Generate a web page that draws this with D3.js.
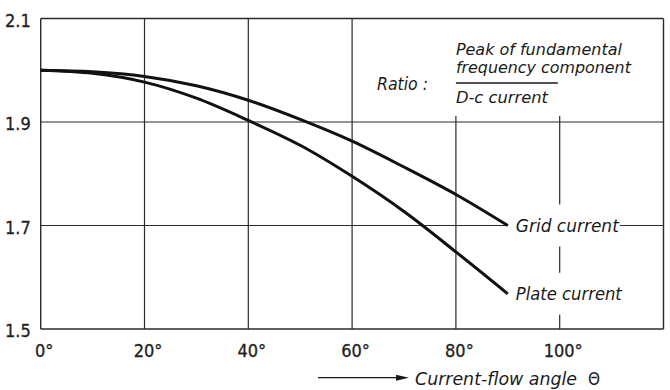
<!DOCTYPE html>
<html>
<head>
<meta charset="utf-8">
<script src="https://cdn.jsdelivr.net/npm/d3@7"></script>
<style>
  html, body { margin: 0; padding: 0; background: #fff; }
  svg { display: block; }
  .tick text { font-family: "Liberation Sans Narrow", "DejaVu Sans Condensed", sans-serif; font-size: 18px; fill: #1e1e1e; stroke: #1e1e1e; stroke-width: 0.3px; }
  .lbl { font-family: "DejaVu Sans Condensed", "DejaVu Sans", sans-serif; font-style: italic; font-size: 17px; fill: #1a1a1a; }
  .lbl.small { font-size: 15.5px; }
</style>
</head>
<body>
<svg id="chart" width="670" height="390"></svg>
<script>
// Ratio of fundamental-frequency peak to d-c current vs. current-flow angle
const angles       = [0, 10, 20, 30, 40, 50, 60, 70, 80, 90];
const gridCurrent  = [2.0, 1.997, 1.988, 1.970, 1.942, 1.905, 1.863, 1.813, 1.760, 1.700];
const plateCurrent = [2.0, 1.994, 1.977, 1.946, 1.903, 1.855, 1.795, 1.727, 1.649, 1.568];

const xTicks = [0, 20, 40, 60, 80, 100];
const xTickLabels = ["0°", "20°", "40°", "60°", "80°", "100°"];
const yTicks = [1.5, 1.7, 1.9, 2.1];
const yTickLabels = ["1.5", "1.7", "1.9", "2.1"];

const seriesNames = ["Grid current", "Plate current"];
const ratioLabel = "Ratio :";
const ratioLines = ["Peak of fundamental", "frequency component", "D-c current"];
const axisTitle = "Current-flow angle";
const axisSymbol = "Θ";

const svg = d3.select("#chart");
const plotLeft = 40.7, plotRight = 663.5, plotTop = 18.5, plotBottom = 329;

const x = d3.scaleLinear().domain([0, 120]).range([plotLeft, plotRight]);
const y = d3.scaleLinear().domain([1.5, 2.1]).range([plotBottom, plotTop]);

const gridStroke = "#2a2a2a";
const g = svg.append("g");

// Ratio legend sits in the upper-right cell; the 80° and 100° verticals stop just above 1.9
const legendFloor = y(1.9) - 6;
// Curve ends and their labels
const gridEnd = { a: angles[angles.length - 1], v: gridCurrent[gridCurrent.length - 1] };
const plateEnd = { a: angles[angles.length - 1], v: plateCurrent[plateCurrent.length - 1] };
const labelGap = 21;

// Horizontal grid lines
yTicks.forEach(v => {
  if (v === 1.7) {
    g.append("line").attr("x1", plotLeft).attr("x2", x(gridEnd.a)).attr("y1", y(v)).attr("y2", y(v))
      .attr("stroke", gridStroke).attr("stroke-width", 1.2);
    g.append("line").attr("x1", x(gridEnd.a) + 112).attr("x2", plotRight).attr("y1", y(v)).attr("y2", y(v))
      .attr("stroke", gridStroke).attr("stroke-width", 1.2);
  } else {
    g.append("line").attr("x1", plotLeft).attr("x2", plotRight).attr("y1", y(v)).attr("y2", y(v))
      .attr("stroke", gridStroke).attr("stroke-width", v === 1.5 || v === 2.1 ? 1.4 : 1.2);
  }
});

// Vertical grid lines
xTicks.forEach(a => {
  let segs;
  if (a === 80) segs = [[legendFloor, plotBottom]];
  else if (a === 100) segs = [
    [legendFloor, y(gridEnd.v) - labelGap],
    [y(gridEnd.v) + labelGap, y(plateEnd.v) - labelGap],
    [y(plateEnd.v) + labelGap, plotBottom]
  ];
  else segs = [[plotTop, plotBottom]];
  segs.forEach(([y1, y2]) => {
    g.append("line").attr("x1", x(a)).attr("x2", x(a)).attr("y1", y1).attr("y2", y2)
      .attr("stroke", gridStroke).attr("stroke-width", a === 0 ? 1.4 : 1.2);
  });
});
// Right frame edge
g.append("line").attr("x1", plotRight).attr("x2", plotRight).attr("y1", plotTop).attr("y2", plotBottom)
  .attr("stroke", gridStroke).attr("stroke-width", 1.4);

// Curves
const line = d3.line().x(d => x(d[0])).y(d => y(d[1])).curve(d3.curveCatmullRom.alpha(0.5));
[gridCurrent, plateCurrent].forEach(series => {
  svg.append("path")
    .datum(angles.map((a, i) => [a, series[i]]))
    .attr("d", line)
    .attr("fill", "none")
    .attr("stroke", "#111")
    .attr("stroke-width", 3);
});

// Axes (labels only)
const xAxis = svg.append("g").attr("transform", `translate(0,${plotBottom})`)
  .call(d3.axisBottom(x).tickValues(xTicks).tickFormat((d, i) => xTickLabels[i]).tickSize(0));
xAxis.select(".domain").remove();
xAxis.selectAll("text").attr("y", 28).attr("dy", null).attr("dx", 3);

const yAxis = svg.append("g").attr("transform", `translate(${plotLeft},0)`)
  .call(d3.axisLeft(y).tickValues(yTicks).tickFormat((d, i) => yTickLabels[i]).tickSize(0).tickPadding(10));
yAxis.select(".domain").remove();
yAxis.selectAll("text").attr("y", 2);

// Series labels at the curve ends
const ends = [gridEnd, plateEnd];
const endWidths = [103, 106];
seriesNames.forEach((name, i) => {
  svg.append("text").attr("class", "lbl")
    .attr("x", x(ends[i].a) + 8).attr("y", y(ends[i].v) + 6.5)
    .attr("textLength", endWidths[i]).attr("lengthAdjust", "spacingAndGlyphs")
    .text(name);
});

// Ratio legend
svg.append("text").attr("class", "lbl").attr("x", 377).attr("y", 90)
  .attr("textLength", 51).attr("lengthAdjust", "spacingAndGlyphs").text(ratioLabel);
const ratioX = x(80);
const ratioYs = [54.5, 73, 103];
const ratioW = [166, 175, 92];
ratioLines.forEach((t, i) => {
  svg.append("text").attr("class", "lbl small").attr("x", ratioX).attr("y", ratioYs[i])
    .attr("textLength", ratioW[i]).attr("lengthAdjust", "spacingAndGlyphs").text(t);
});
svg.append("line").attr("x1", ratioX).attr("x2", ratioX + 102).attr("y1", 83).attr("y2", 83)
  .attr("stroke", "#1a1a1a").attr("stroke-width", 1.6);

// Axis title with arrow
svg.append("line").attr("x1", 318).attr("x2", 398).attr("y1", 377.7).attr("y2", 377.7)
  .attr("stroke", "#1a1a1a").attr("stroke-width", 1.3);
svg.append("path").attr("d", "M396,374.7 L409,377.7 L396,380.7 Z").attr("fill", "#1a1a1a");
svg.append("text").attr("class", "lbl").attr("x", 415).attr("y", 385)
  .attr("textLength", 162).attr("lengthAdjust", "spacingAndGlyphs").text(axisTitle);
svg.append("text").attr("class", "lbl").attr("x", 588).attr("y", 385)
  .style("font-style", "normal").text(axisSymbol);
</script>
</body>
</html>
